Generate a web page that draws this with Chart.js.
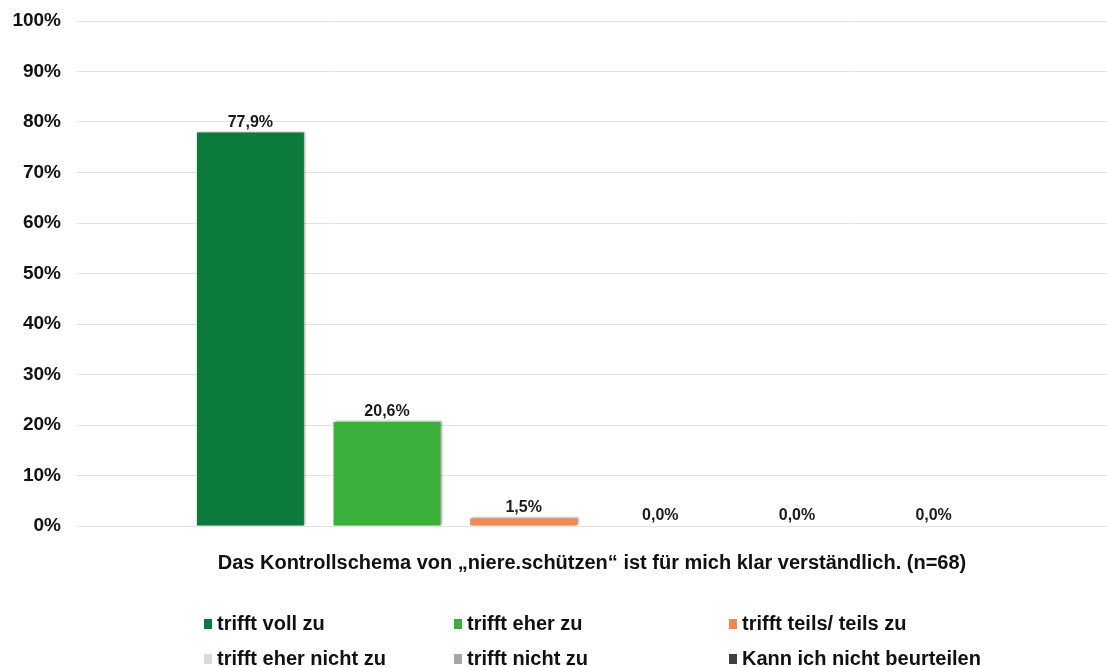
<!DOCTYPE html>
<html>
<head>
<meta charset="utf-8">
<script src="https://cdn.jsdelivr.net/npm/chart.js@4"></script>
<style>
  html, body { margin: 0; padding: 0; background: #fff; }
  #wrap { width: 1107px; height: 667px; position: relative; }
</style>
</head>
<body>
<div id="wrap"><canvas id="chart"></canvas></div>
<script>
"use strict";

// Data
const CATEGORY = ["Das Kontrollschema von „niere.schützen“ ist für mich klar verständlich. (n=68)"];
const SERIES = [
  "trifft voll zu",
  "trifft eher zu",
  "trifft teils/ teils zu",
  "trifft eher nicht zu",
  "trifft nicht zu",
  "Kann ich nicht beurteilen",
];
const VALUES = [77.9, 20.6, 1.5, 0.0, 0.0, 0.0];
const COLORS = ["#0b7a3b", "#3bb03b", "#f7874f", "#d9d9d9", "#a6a6a6", "#404040"];
const Y_TICKS = [0, 10, 20, 30, 40, 50, 60, 70, 80, 90, 100];

const FONT = "'Liberation Sans', Arial, sans-serif";
const fmtPct = (v) => v.toFixed(1).replace(".", ",") + "%";

// soft shadow under the bars, like the original export
const barShadow = {
  id: "barShadow",
  beforeDatasetsDraw(chart) {
    const ctx = chart.ctx;
    ctx.save();
    ctx.shadowColor = "rgba(0,0,0,0.35)";
    ctx.shadowBlur = 2;
    ctx.shadowOffsetX = 1.5;
    ctx.shadowOffsetY = -1;
  },
  afterDatasetsDraw(chart) {
    chart.ctx.restore();
  },
};

// value labels above each bar
const valueLabels = {
  id: "valueLabels",
  afterDatasetsDraw(chart) {
    const ctx = chart.ctx;
    ctx.save();
    ctx.font = "bold 16px " + FONT;
    ctx.fillStyle = "#1a1a1a";
    ctx.textAlign = "center";
    ctx.textBaseline = "alphabetic";
    chart.data.datasets.forEach((ds, i) => {
      const meta = chart.getDatasetMeta(i);
      meta.data.forEach((bar, j) => {
        ctx.fillText(fmtPct(ds.data[j]), bar.x, bar.y - 6);
      });
    });
    ctx.restore();
  },
};

// legend laid out in a 3 x 2 grid
const gridLegend = {
  id: "gridLegend",
  afterDraw(chart) {
    const ctx = chart.ctx;
    const cols = [204, 454, 729];
    const rows = [624, 659];
    ctx.save();
    ctx.font = "bold 20px " + FONT;
    ctx.textBaseline = "middle";
    ctx.textAlign = "left";
    chart.data.datasets.forEach((ds, i) => {
      const x = cols[i % 3];
      const y = rows[Math.floor(i / 3)];
      ctx.fillStyle = ds.backgroundColor;
      ctx.fillRect(x, y - 5, 8, 10);
      ctx.fillStyle = "#111";
      ctx.fillText(ds.label, x + 13, y);
    });
    ctx.restore();
  },
};

const datasets = SERIES.map((name, i) => ({
  label: name,
  data: [VALUES[i]],
  backgroundColor: COLORS[i],
  borderWidth: 0,
  categoryPercentage: 0.796,
  barPercentage: 0.783,
}));

new Chart(document.getElementById("chart"), {
  type: "bar",
  data: { labels: CATEGORY, datasets },
  plugins: [barShadow, valueLabels, gridLegend],
  options: {
    responsive: true,
    maintainAspectRatio: false,
    animation: false,
    layout: { padding: { top: 21, left: 0, right: -10, bottom: 92 } },
    plugins: {
      legend: { display: false },
      tooltip: { enabled: false },
    },
    scales: {
      x: {
        grid: { display: false, drawTicks: false },
        border: { display: false },
        ticks: { display: false },
        title: {
          display: true,
          text: CATEGORY[0],
          color: "#111",
          font: { family: FONT, size: 20, weight: "bold" },
          padding: { top: 25, bottom: 0 },
        },
      },
      y: {
        min: 0,
        max: 100,
        afterBuildTicks: (scale) => { scale.ticks = Y_TICKS.map(v => ({ value: v })); },
        afterFit: (scale) => {
          scale.width = 77;
          scale.paddingTop = 0;
          scale.paddingBottom = 0;
        },
        grid: { color: "#e3e3e3", drawTicks: false, lineWidth: 1 },
        border: { display: false },
        ticks: {
          padding: 16,
          color: "#111",
          font: { family: FONT, size: 19, weight: "bold" },
          callback: (v) => v + "%",
        },
      },
    },
  },
});
</script>
</body>
</html>
